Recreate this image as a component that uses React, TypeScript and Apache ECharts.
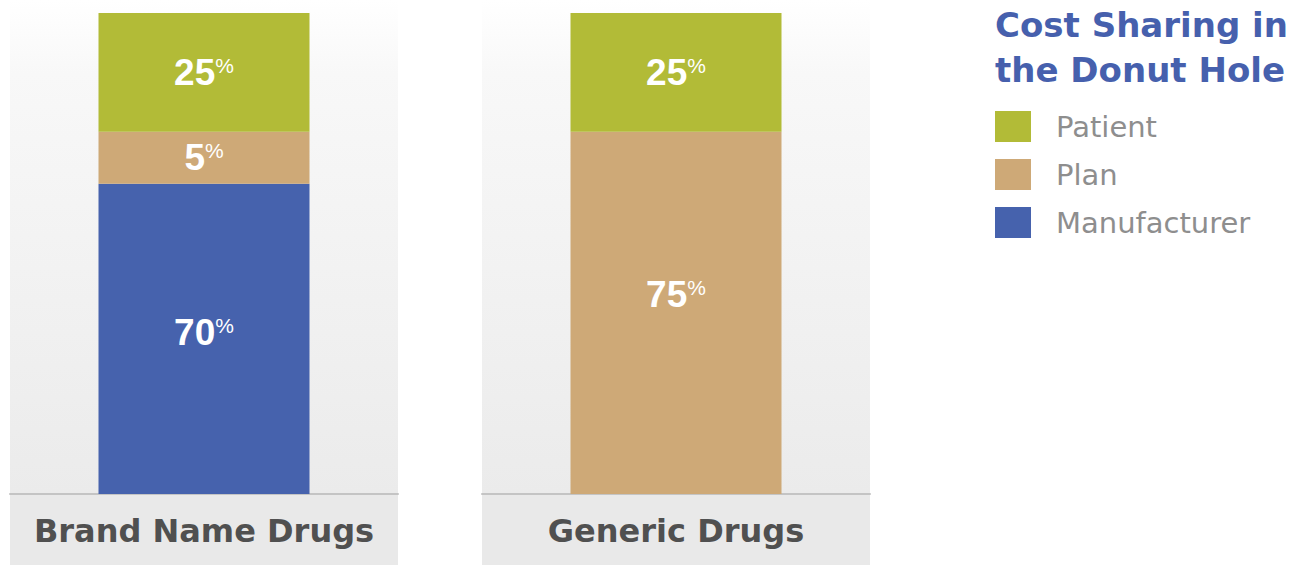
import React, { useEffect, useRef } from "react";
import * as echarts from "echarts";

const categories = ["Brand Name Drugs", "Generic Drugs"];
const seriesNames = ["Patient", "Plan", "Manufacturer"];
// drawn segment heights (share of bar height as pictured)
const patientHeights = [24.7, 24.7];
const planHeights = [10.8, 75.3];
const manufacturerHeights = [64.5, 0];
// printed percentages
const patientLabels = ["25", "25"];
const planLabels = ["5", "75"];
const manufacturerLabels = ["70", ""];
const labelOffsets = [
  [0, 0, -6],
  [0, -18, 0],
];
const title = "Cost Sharing in\nthe Donut Hole";

const COLORS = ["#b2bb37", "#cea977", "#4662ad"];
const PANEL_LEFT = [10, 482];
const PANEL_W = 388;

export default function App() {
  const ref = useRef<HTMLDivElement>(null);
  useEffect(() => {
    if (!ref.current) return;
    const chart = echarts.init(ref.current, null, { renderer: "svg" });
    const heights = [patientHeights, planHeights, manufacturerHeights];
    const labels = [patientLabels, planLabels, manufacturerLabels];

    const grids: any[] = [];
    const xAxes: any[] = [];
    const yAxes: any[] = [];
    const series: any[] = [];
    const graphics: any[] = [];

    categories.forEach((cat, i) => {
      grids.push({ left: PANEL_LEFT[i], width: PANEL_W, top: 13, bottom: 71 });
      xAxes.push({
        type: "category",
        gridIndex: i,
        data: [cat],
        axisTick: { show: false },
        axisLine: { lineStyle: { color: "#c4c4c4", width: 2 } },
        axisLabel: {
          margin: 20,
          fontFamily: "DejaVu Sans",
          fontWeight: "bold",
          fontSize: 32,
          lineHeight: 34,
          color: "#505050",
        },
      });
      yAxes.push({
        type: "value",
        gridIndex: i,
        min: 0,
        max: 100,
        show: false,
        splitLine: { show: false },
      });
      graphics.push({
        type: "rect",
        z: -10,
        shape: { x: PANEL_LEFT[i], y: 0, width: PANEL_W, height: 494 },
        style: {
          fill: new echarts.graphic.LinearGradient(0, 0, 0, 1, [
            { offset: 0, color: "#ffffff" },
            { offset: 0.15, color: "#f8f8f8" },
            { offset: 1, color: "#ebebeb" },
          ]),
        },
      });
      graphics.push({
        type: "rect",
        z: -10,
        shape: { x: PANEL_LEFT[i], y: 494, width: PANEL_W, height: 71 },
        style: { fill: "#e9e9e9" },
      });
      // stack from bottom: Manufacturer, Plan, Patient
      [2, 1, 0].forEach((s) => {
        const v = heights[s][i];
        if (!v) return;
        series.push({
          name: seriesNames[s],
          type: "bar",
          stack: "total" + i,
          xAxisIndex: i,
          yAxisIndex: i,
          barWidth: 211,
          itemStyle: { color: COLORS[s] },
          data: [v],
          label: {
            show: true,
            position: "inside",
            offset: [0, labelOffsets[i][s]],
            formatter: () => `{n|${labels[s][i]}}{p|%}`,
            rich: {
              n: {
                fontFamily: "Liberation Sans",
                fontWeight: "bold",
                fontSize: 37,
                lineHeight: 40,
                color: "#ffffff",
              },
              p: {
                fontFamily: "Liberation Sans",
                fontSize: 21,
                lineHeight: 21,
                padding: [0, 0, 14, 0],
                color: "#ffffff",
              },
            },
          },
        });
      });
    });

    chart.setOption({
      animation: false,
      backgroundColor: "#ffffff",
      title: {
        text: title,
        left: 995,
        top: 2,
        padding: 0,
        textStyle: {
          fontFamily: "DejaVu Sans",
          fontWeight: "bold",
          fontSize: 34,
          lineHeight: 45,
          color: "#4660ad",
        },
      },
      legend: {
        orient: "vertical",
        left: 990,
        top: 106,
        data: seriesNames,
        icon: "rect",
        itemWidth: 36,
        itemHeight: 31,
        itemGap: 17,
        selectedMode: false,
        textStyle: {
          fontFamily: "DejaVu Sans",
          fontSize: 29,
          lineHeight: 31,
          color: "#8e8e8e",
          padding: [0, 0, 0, 20],
        },
      },
      grid: grids,
      xAxis: xAxes,
      yAxis: yAxes,
      graphic: graphics,
      series,
    });
    return () => chart.dispose();
  }, []);
  return (
    <div
      ref={ref}
      style={{ position: "absolute", left: 0, top: 0, width: 1300, height: 565 }}
    />
  );
}
